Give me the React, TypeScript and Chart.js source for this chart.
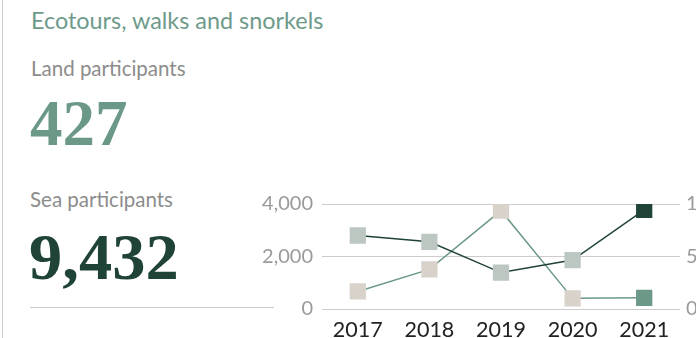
import React, { useEffect, useRef } from "react";
import { Chart, registerables } from "chart.js";

Chart.register(...registerables);

const years = ["2017", "2018", "2019", "2020", "2021"];
const seaParticipants = [7000, 6400, 3470, 4660, 9432];
const landParticipants = [670, 1510, 3746, 405, 427];
const landTicks = [0, 2000, 4000];
const seaTicks = [0, 5000, 10000];

const TEXT_FONT = "Lato, 'Open Sans', sans-serif";
const NUM_FONT = "'Liberation Serif', 'DejaVu Serif', serif";

const DARK = "#1f4437";
const TEAL = "#6b9887";
const DARK_PAST = "#bcc7c2";
const TEAL_PAST = "#d9d2cb";

function pastColors(n: number, past: string, last: string) {
  return Array.from({ length: n }, (_, i) => (i === n - 1 ? last : past));
}

function fmt(v: number) {
  return v.toLocaleString("en-US");
}

export default function App() {
  const ref = useRef<HTMLCanvasElement | null>(null);

  useEffect(() => {
    document.body.style.margin = "0";
    const canvas = ref.current;
    if (!canvas) return;
    const chart = new Chart(canvas, {
      type: "line",
      data: {
        labels: years,
        datasets: [
          {
            label: "Sea participants",
            data: seaParticipants,
            yAxisID: "y1",
            borderColor: DARK,
            borderWidth: 1.5,
            pointStyle: "rect",
            pointRadius: 11.5,
            pointHoverRadius: 11.5,
            pointBorderWidth: 0,
            pointBackgroundColor: pastColors(seaParticipants.length, DARK_PAST, DARK),
            pointBorderColor: "rgba(0,0,0,0)",
            tension: 0,
          },
          {
            label: "Land participants",
            data: landParticipants,
            yAxisID: "y",
            borderColor: TEAL,
            borderWidth: 1.5,
            pointStyle: "rect",
            pointRadius: 11.5,
            pointHoverRadius: 11.5,
            pointBorderWidth: 0,
            pointBackgroundColor: pastColors(landParticipants.length, TEAL_PAST, TEAL),
            pointBorderColor: "rgba(0,0,0,0)",
            tension: 0,
          },
        ],
      },
      options: {
        animation: false,
        responsive: false,
        maintainAspectRatio: false,
        layout: { padding: { top: 24, left: 0, right: 0, bottom: 0 } },
        plugins: {
          legend: { display: false },
          tooltip: { enabled: false },
        },
        scales: {
          x: {
            offset: true,
            grid: { display: false, drawTicks: false },
            border: { display: false },
            ticks: {
              color: "#222222",
              padding: 8,
              font: { family: TEXT_FONT, size: 21.5 },
              maxRotation: 0,
            },
            afterFit: (s: any) => {
              s.height = 71;
            },
          },
          y: {
            position: "left",
            min: 0,
            max: 4000,
            afterBuildTicks: (s: any) => {
              s.ticks = landTicks.map((v) => ({ value: v }));
            },
            grid: { color: "#cccccc", lineWidth: 1, drawTicks: false },
            border: { display: false },
            ticks: {
              color: "#9a9a9a",
              padding: 9,
              font: { family: TEXT_FONT, size: 20 },
              callback: (v: any) => fmt(Number(v)),
            },
            afterFit: (s: any) => {
              s.width = 82;
            },
          },
          y1: {
            position: "right",
            min: 0,
            max: 10000,
            afterBuildTicks: (s: any) => {
              s.ticks = seaTicks.map((v) => ({ value: v }));
            },
            grid: { display: false, drawTicks: false },
            border: { display: false },
            ticks: {
              color: "#9a9a9a",
              padding: 6,
              font: { family: TEXT_FONT, size: 20 },
              callback: (v: any) => fmt(Number(v)),
            },
            afterFit: (s: any) => {
              s.width = 60;
            },
          },
        },
      },
    });
    return () => chart.destroy();
  }, []);

  return (
    <div
      style={{
        position: "absolute",
        left: 0,
        top: 0,
        width: 696,
        height: 338,
        overflow: "hidden",
        background: "#ffffff",
      }}
    >
      <div
        style={{
          position: "absolute",
          left: 2,
          top: 0,
          width: 1,
          height: 338,
          background: "#cccccc",
        }}
      />
      <div
        style={{
          position: "absolute",
          left: 31,
          top: 5,
          fontFamily: TEXT_FONT,
          fontSize: 23.4,
          color: "#6e9a8b",
          whiteSpace: "nowrap",
          lineHeight: "30px",
        }}
      >
        Ecotours, walks and snorkels
      </div>
      <div
        style={{
          position: "absolute",
          left: 31,
          top: 55,
          fontFamily: TEXT_FONT,
          fontSize: 20.5,
          color: "#8c8c8c",
          whiteSpace: "nowrap",
          lineHeight: "26px",
        }}
      >
        Land participants
      </div>
      <div
        style={{
          position: "absolute",
          left: 30,
          top: 86,
          fontFamily: NUM_FONT,
          fontWeight: "bold",
          fontSize: 65,
          color: TEAL,
          whiteSpace: "nowrap",
          lineHeight: "74px",
        }}
      >
        {fmt(landParticipants[landParticipants.length - 1])}
      </div>
      <div
        style={{
          position: "absolute",
          left: 30,
          top: 186,
          fontFamily: TEXT_FONT,
          fontSize: 20.5,
          color: "#8c8c8c",
          whiteSpace: "nowrap",
          lineHeight: "26px",
        }}
      >
        Sea participants
      </div>
      <div
        style={{
          position: "absolute",
          left: 29,
          top: 220,
          fontFamily: NUM_FONT,
          fontWeight: "bold",
          fontSize: 66.5,
          color: DARK,
          whiteSpace: "nowrap",
          lineHeight: "74px",
        }}
      >
        {fmt(seaParticipants[seaParticipants.length - 1])}
      </div>
      <div
        style={{
          position: "absolute",
          left: 30,
          top: 307,
          width: 244,
          height: 1,
          background: "#cccccc",
        }}
      />
      <canvas
        ref={ref}
        width={500}
        height={200}
        style={{ position: "absolute", left: 240, top: 180, width: 500, height: 200 }}
      />
    </div>
  );
}
